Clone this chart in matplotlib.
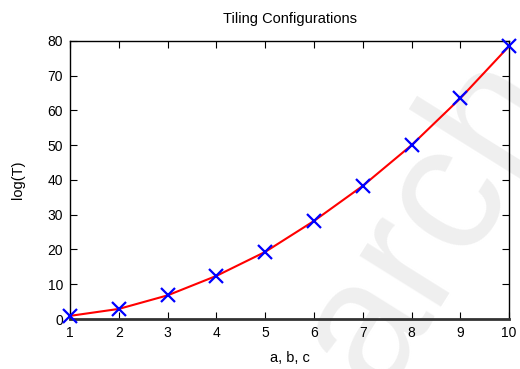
#!/usr/bin/env python

import matplotlib
matplotlib.use('Agg')
import matplotlib.pyplot as plt

# log(T) against tile size
sizes = [1, 2, 3, 4, 5, 6, 7, 8, 9, 10]
log_t = [0.9, 2.9, 6.8, 12.4, 19.3, 28.2, 38.3, 50.0, 63.5, 78.5]
x_ticks = [1, 2, 3, 4, 5, 6, 7, 8, 9, 10]
y_ticks = [0, 10, 20, 30, 40, 50, 60, 70, 80]


def main():
    plt.rcParams['font.family'] = ['Liberation Sans', 'DejaVu Sans']
    fig = plt.figure(figsize=(5.2, 3.69), dpi=100)

    # faint watermark behind the plot
    fig.text(0.83, 0.40, 'arch', fontsize=130, color='#efefef', rotation=58,
             ha='center', va='center', zorder=-5)

    ax = fig.add_axes([0.1346, 0.1355, 0.8444, 0.7535])
    ax.patch.set_alpha(0)

    ax.plot(sizes, log_t, color='red', linewidth=1.5, zorder=2)
    ax.plot(sizes, log_t, linestyle='none', marker='x', markersize=10,
            markeredgewidth=1.6, color='blue', zorder=3, clip_on=False)

    ax.set_xlim(1, 10)
    ax.set_ylim(0, 80)
    ax.set_xticks(x_ticks)
    ax.set_yticks(y_ticks)
    ax.tick_params(direction='in', top=True, right=True, length=5,
                   labelsize=10, pad=5, color='black')
    for side in ax.spines.values():
        side.set_linewidth(1.0)
    ax.spines['bottom'].set_linewidth(2.0)
    ax.spines['bottom'].set_color('#333333')

    ax.set_title('Tiling Configurations', fontsize=10.5, pad=13)
    ax.set_xlabel('a, b, c', fontsize=10.5, labelpad=8)
    ax.set_ylabel('log(T)', fontsize=10.5, labelpad=16)

    plt.savefig('out.png', dpi=100)
    plt.close()


if __name__ == '__main__':
    main()
